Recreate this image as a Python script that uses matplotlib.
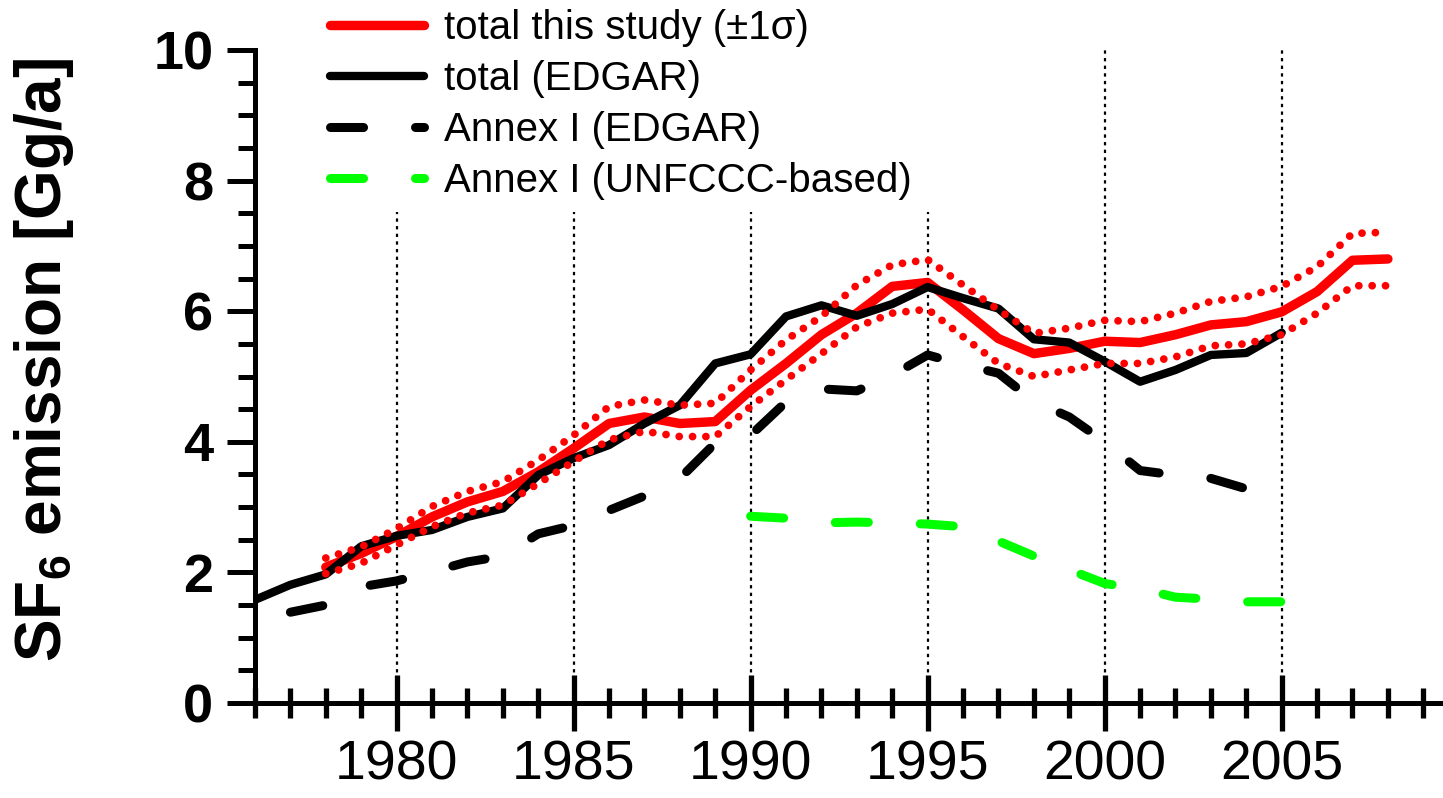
import numpy as np
import matplotlib
matplotlib.use("Agg")
import matplotlib.pyplot as plt
from matplotlib.ticker import MultipleLocator

plt.rcParams['font.family'] = ['Liberation Sans', 'DejaVu Sans']
plt.rcParams['mathtext.fontset'] = 'custom'
plt.rcParams['mathtext.rm'] = 'Liberation Sans'
plt.rcParams['mathtext.bf'] = 'Liberation Sans:bold'
plt.rcParams['lines.scale_dashes'] = False

# данные
years_study = np.arange(1978, 2009)
study = [2.08, 2.29, 2.55, 2.85, 3.08, 3.24, 3.54, 3.90, 4.28, 4.38, 4.28, 4.31, 4.79,
         5.20, 5.64, 5.97, 6.38, 6.44, 6.02, 5.58, 5.35, 5.43, 5.54, 5.52, 5.64, 5.79,
         5.84, 5.99, 6.30, 6.78, 6.80]
study_hi = [2.22, 2.39, 2.67, 3.01, 3.24, 3.39, 3.72, 4.10, 4.54, 4.64, 4.56, 4.59, 5.10,
            5.56, 5.92, 6.40, 6.71, 6.79, 6.40, 6.02, 5.66, 5.74, 5.86, 5.84, 5.97, 6.15,
            6.22, 6.38, 6.68, 7.19, 7.21]
study_lo = [1.98, 2.14, 2.42, 2.70, 2.91, 3.03, 3.36, 3.70, 4.03, 4.16, 4.08, 4.08, 4.54,
            4.95, 5.35, 5.76, 5.97, 6.03, 5.61, 5.20, 5.00, 5.10, 5.20, 5.20, 5.30, 5.47,
            5.50, 5.64, 5.97, 6.39, 6.39]

years_edgar = np.arange(1976, 2006)
edgar_total = [1.58, 1.81, 1.97, 2.40, 2.56, 2.65, 2.85, 2.98, 3.49, 3.75, 3.95, 4.28,
               4.56, 5.20, 5.34, 5.92, 6.09, 5.93, 6.11, 6.37, 6.20, 6.04, 5.57, 5.52,
               5.23, 4.92, 5.10, 5.33, 5.36, 5.67]

years_annex = np.arange(1977, 2005)
edgar_annex = [1.39, 1.50, 1.78, 1.87, 2.01, 2.16, 2.25, 2.59, 2.72, 2.95, 3.17, 3.44,
               3.98, 4.10, 4.61, 4.81, 4.78, 5.02, 5.33, 5.18, 5.05, 4.62, 4.38, 4.00,
               3.56, 3.49, 3.44, 3.28]

years_unfccc = np.arange(1990, 2006)
unfccc_annex = [2.86, 2.83, 2.76, 2.77, 2.76, 2.74, 2.70, 2.48, 2.25, 2.04, 1.83, 1.75,
                1.62, 1.59, 1.55, 1.55]

labels = ["total this study (\u00b11\u03c3)", "total (EDGAR)",
          "Annex I (EDGAR)", "Annex I (UNFCCC-based)"]

W, H = 1443, 798
fig = plt.figure(figsize=(W / 100, H / 100), dpi=100)
ax = fig.add_axes([255 / W, 95 / H, (1441 - 255) / W, 653 / H])

dash = (0, (23.8, 37.4))
dots = (0, (0.01, 9.6))

l_red, = ax.plot(years_study, study, color='#ff0000', lw=6.8,
                 solid_capstyle='round', zorder=3)
l_blk, = ax.plot(years_edgar, edgar_total, color='k', lw=6.0,
                 solid_capstyle='round', zorder=4)
l_ann, = ax.plot(years_annex, edgar_annex, color='k', lw=6.5, linestyle=dash,
                 dash_capstyle='round', zorder=4)
l_grn, = ax.plot(years_unfccc, unfccc_annex, color='#00ff00', lw=6.5, linestyle=dash,
                 dash_capstyle='round', zorder=4)
ax.plot(years_study, study_hi, color='#ff0000', lw=5.6, linestyle=dots,
        dash_capstyle='round', zorder=5)
ax.plot(years_study, study_lo, color='#ff0000', lw=5.6, linestyle=dots,
        dash_capstyle='round', zorder=5)

ax.set_xlim(1976, 2009.5)
ax.set_ylim(0, 10)
ax.xaxis.set_major_locator(MultipleLocator(5))
ax.xaxis.set_minor_locator(MultipleLocator(1))
ax.yaxis.set_major_locator(MultipleLocator(2))
ax.yaxis.set_minor_locator(MultipleLocator(0.5))

ax.xaxis.grid(True, which='major', color='k', lw=1.6, linestyle=(0, (2.4, 3.1)))
ax.set_axisbelow(True)

for s in ['top', 'right']:
    ax.spines[s].set_visible(False)
for s in ['left', 'bottom']:
    ax.spines[s].set_linewidth(3.6)

ax.tick_params(axis='x', which='major', direction='inout', length=41, width=3.8,
               labelsize=40, pad=6)
ax.tick_params(axis='x', which='minor', direction='inout', length=22, width=3.8)
ax.tick_params(axis='y', which='major', direction='out', length=20, width=3.6,
               labelsize=39, pad=10)
ax.tick_params(axis='y', which='minor', direction='out', length=12, width=3.6)
for t in ax.get_yticklabels():
    t.set_fontweight('bold')

ax.set_ylabel(r'SF$_\mathbf{6}$ emission [Gg/a]', fontsize=46, fontweight='bold')
ax.yaxis.set_label_coords((76 - 255) / 1186, (703 - 360) / 653)

leg = ax.legend([l_red, l_blk, l_ann, l_grn], labels, loc='upper left',
                bbox_to_anchor=(318 / W, (H + 3) / H, (965 - 318) / W, 0),
                bbox_transform=fig.transFigure, mode='expand',
                borderpad=0.3, labelspacing=0.32, handlelength=2.33,
                handletextpad=0.5, borderaxespad=0, frameon=True, fancybox=False,
                prop={'size': 29})
leg.get_frame().set_edgecolor('none')
leg.get_frame().set_facecolor('white')
leg.get_frame().set_alpha(1)

fig.savefig('out.png', dpi=100)
